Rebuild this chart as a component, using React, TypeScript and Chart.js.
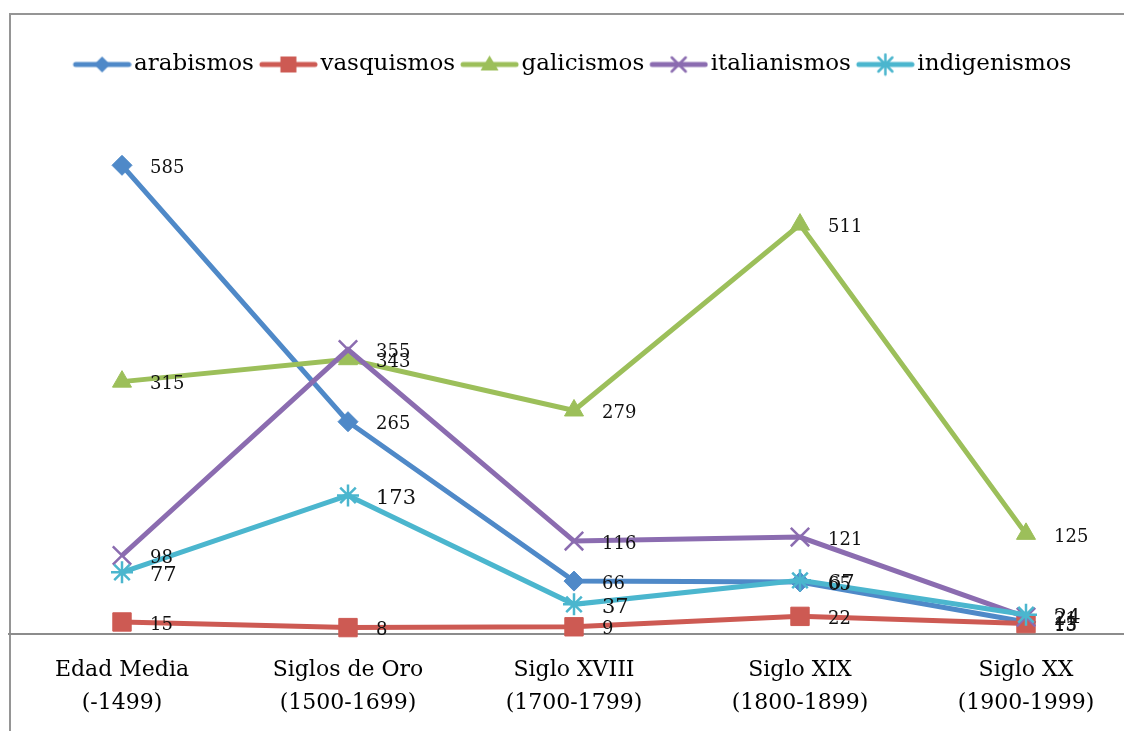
import React, { useEffect, useRef } from "react";
import { Chart, registerables } from "chart.js";

Chart.register(...registerables);

const categories = [
  ["Edad Media", "(-1499)"],
  ["Siglos de Oro", "(1500-1699)"],
  ["Siglo XVIII", "(1700-1799)"],
  ["Siglo XIX", "(1800-1899)"],
  ["Siglo XX", "(1900-1999)"],
];
const seriesNames = ["arabismos", "vasquismos", "galicismos", "italianismos", "indigenismos"];
const arabismos = [585, 265, 66, 65, 15];
const vasquismos = [15, 8, 9, 22, 13];
const galicismos = [315, 343, 279, 511, 125];
const italianismos = [98, 355, 116, 121, 21];
const indigenismos = [77, 173, 37, 67, 24];
const seriesValues = [arabismos, vasquismos, galicismos, italianismos, indigenismos];

const colors = ["#4F89C8", "#CD5A53", "#9CBF5A", "#8B6CB0", "#4BB6CE"];
const pointStyles = ["rectRot", "rect", "triangle", "crossRot", "star"];
const pointRadii = [10, 13, 11, 13, 11];
const labelSizes = [18, 18, 18, 18, 21];
const yMax = 684;
const SERIF = "'DejaVu Serif', serif";

function drawMarker(ctx: CanvasRenderingContext2D, idx: number, cx: number, cy: number) {
  const c = colors[idx];
  ctx.fillStyle = c;
  ctx.strokeStyle = c;
  ctx.lineWidth = 2.5;
  ctx.beginPath();
  if (idx === 0) {
    const r = 8;
    ctx.moveTo(cx, cy - r); ctx.lineTo(cx + r, cy); ctx.lineTo(cx, cy + r); ctx.lineTo(cx - r, cy); ctx.closePath(); ctx.fill();
  } else if (idx === 1) {
    ctx.rect(cx - 8, cy - 8, 16, 16); ctx.fill();
  } else if (idx === 2) {
    ctx.moveTo(cx, cy - 9); ctx.lineTo(cx + 9, cy + 6); ctx.lineTo(cx - 9, cy + 6); ctx.closePath(); ctx.fill();
  } else if (idx === 3) {
    const r = 7;
    ctx.moveTo(cx - r, cy - r); ctx.lineTo(cx + r, cy + r); ctx.moveTo(cx + r, cy - r); ctx.lineTo(cx - r, cy + r); ctx.stroke();
  } else {
    const r = 7;
    ctx.moveTo(cx - r, cy - r); ctx.lineTo(cx + r, cy + r); ctx.moveTo(cx + r, cy - r); ctx.lineTo(cx - r, cy + r);
    ctx.moveTo(cx, cy - 10); ctx.lineTo(cx, cy + 10); ctx.stroke();
  }
}

function makeLegendIcon(idx: number): HTMLCanvasElement {
  const c = document.createElement("canvas");
  c.width = 64;
  c.height = 24;
  const ctx = c.getContext("2d")!;
  ctx.strokeStyle = colors[idx];
  ctx.lineWidth = 5;
  ctx.lineCap = "round";
  ctx.beginPath();
  ctx.moveTo(8, 12);
  ctx.lineTo(61, 12);
  ctx.stroke();
  drawMarker(ctx, idx, 34.5, 12);
  return c;
}

const valueLabelPlugin = {
  id: "valueLabels",
  afterDatasetsDraw(chart: any) {
    const ctx = chart.ctx as CanvasRenderingContext2D;
    chart.data.datasets.forEach((ds: any, di: number) => {
      const meta = chart.getDatasetMeta(di);
      ctx.save();
      ctx.font = `${labelSizes[di]}px ${SERIF}`;
      ctx.fillStyle = "#111";
      ctx.textBaseline = "middle";
      ctx.textAlign = "left";
      meta.data.forEach((pt: any, i: number) => {
        ctx.fillText(String(ds.data[i]), pt.x + 28, pt.y + 3);
      });
      ctx.restore();
    });
  },
};

export default function App() {
  const ref = useRef<HTMLCanvasElement>(null);

  useEffect(() => {
    if (!ref.current) return;
    const icons = seriesNames.map((_, i) => makeLegendIcon(i));
    const chart = new Chart(ref.current, {
      type: "line",
      data: {
        labels: categories,
        datasets: seriesNames.map((name, i) => ({
          label: name,
          data: seriesValues[i],
          borderColor: colors[i],
          backgroundColor: colors[i],
          borderWidth: 5,
          tension: 0,
          pointStyle: pointStyles[i] as any,
          pointRadius: pointRadii[i],
          pointBorderWidth: i >= 3 ? 2.5 : 1,
          pointBackgroundColor: colors[i],
          pointBorderColor: colors[i],
          order: 4 - i,
          clip: false as any,
        })),
      },
      options: {
        responsive: false,
        animation: false,
        devicePixelRatio: 1,
        layout: { autoPadding: false, padding: { left: 9, right: 11, top: 44, bottom: 11 } },
        plugins: {
          tooltip: { enabled: false },
          legend: {
            position: "top",
            labels: {
              usePointStyle: true,
              pointStyleWidth: 46,
              padding: 9,
              color: "#000",
              font: { family: SERIF, size: 23 },
              generateLabels: (ch: any) => {
                const items = Chart.defaults.plugins.legend.labels.generateLabels(ch);
                return items
                  .sort((a: any, b: any) => a.datasetIndex - b.datasetIndex)
                  .map((it: any) => ({ ...it, pointStyle: icons[it.datasetIndex] }));
              },
            },
          },
        },
        scales: {
          x: {
            offset: true,
            grid: { display: false, drawTicks: false },
            border: { display: true, color: "#8c8c8c", width: 2 },
            ticks: {
              padding: 20,
              color: "#000",
              font: { family: SERIF, size: 22, lineHeight: 1.5 },
              maxRotation: 0,
              autoSkip: false,
            },
          },
          y: {
            display: false,
            min: 0,
            max: yMax,
          },
        },
      },
      plugins: [valueLabelPlugin],
    });
    return () => chart.destroy();
  }, []);

  return (
    <div style={{ position: "fixed", left: 0, top: 0, width: 1124, height: 731, overflow: "hidden", background: "#fff" }}>
      <div
        style={{
          position: "absolute",
          left: 9,
          top: 13,
          width: 1300,
          height: 900,
          borderTop: "2px solid #959595",
          borderLeft: "2px solid #959595",
        }}
      />
      <canvas ref={ref} width={1150} height={751} style={{ position: "absolute", left: 0, top: 0, width: 1150, height: 751 }} />
    </div>
  );
}
